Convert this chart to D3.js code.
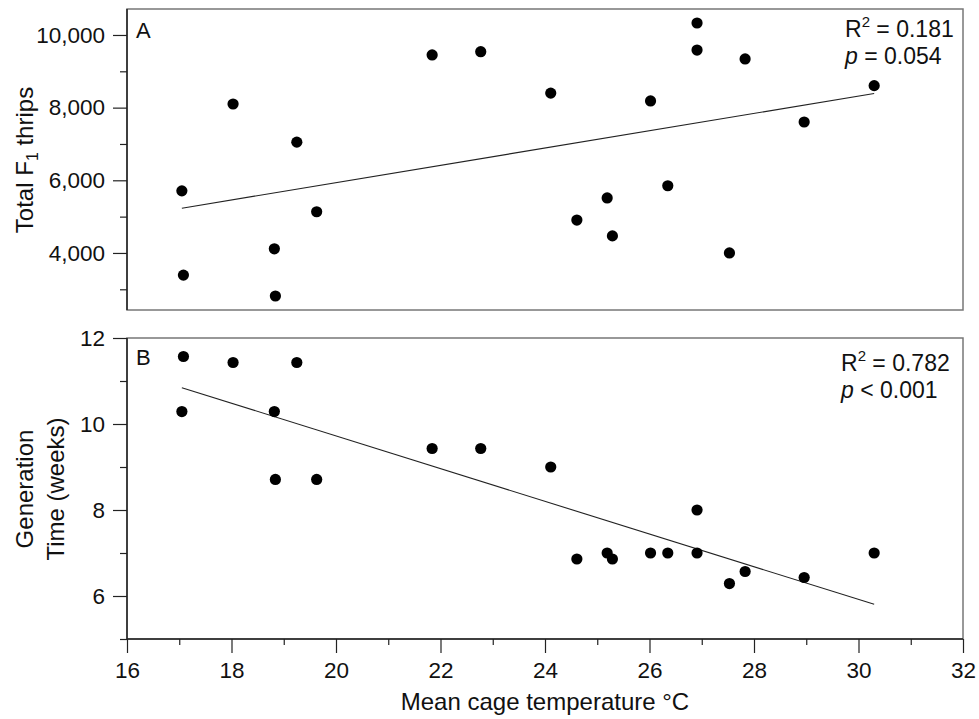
<!DOCTYPE html>
<html>
<head>
<meta charset="utf-8">
<script src="https://cdn.jsdelivr.net/npm/d3@7"></script>
<style>
    body { margin: 0; background: #fff; }
    svg text { font-family: "Liberation Sans", Arial, Helvetica, sans-serif; fill: #111; }
</style>
</head>
<body>
<div id="chart-container"></div>
<script>
// Mean cage temperature (°C) for each cage
const temperature = [17.05, 17.08, 18.03, 18.82, 18.84, 19.25, 19.63, 21.84, 22.77, 24.11, 24.61,
    25.19, 25.29, 26.02, 26.35, 26.91, 26.91, 27.53, 27.83, 28.96, 30.30];
// Panel A: total F1 thrips
const totalThrips = [5710, 3390, 8100, 4115, 2815, 7050, 5135, 9450, 9540, 8400, 4905,
    5515, 4470, 8185, 5850, 10330, 9585, 4000, 9340, 7605, 8605];
// Panel B: generation time (weeks)
const generationTime = [10.29, 11.57, 11.43, 10.29, 8.71, 11.43, 8.71, 9.43, 9.43, 9.0, 6.86,
    7.0, 6.86, 7.0, 7.0, 8.0, 7.0, 6.29, 6.57, 6.43, 7.0];

const xTicks = [16, 18, 20, 22, 24, 26, 28, 30, 32];
const xMinorTicks = [17, 19, 21, 23, 25, 27, 29, 31];
const thripsTicks = [4000, 6000, 8000, 10000];
const thripsMinorTicks = [3000, 5000, 7000, 9000];
const genTicks = [6, 8, 10, 12];
const genMinorTicks = [5, 7, 9, 11];
const statsA = ["0.181", "= 0.054"];
const statsB = ["0.782", "< 0.001"];

const width = 979, height = 719;
const left = 127, right = 963;

const svg = d3.select('#chart-container')
    .append('svg')
    .attr('width', width)
    .attr('height', height);

const x = d3.scaleLinear().domain([16, 32]).range([left, right]);

// least squares fit, used for the trend lines
function fitLine(xs, ys) {
    const mx = d3.mean(xs), my = d3.mean(ys);
    let sxy = 0, sxx = 0;
    xs.forEach((v, i) => { sxy += (v - mx) * (ys[i] - my); sxx += (v - mx) * (v - mx); });
    const b = sxy / sxx;
    const x0 = d3.min(xs), x1 = d3.max(xs);
    return [[x0, my + b * (x0 - mx)], [x1, my + b * (x1 - mx)]];
}

function drawPanel(opts) {
    const y = d3.scaleLinear().domain(opts.domain).range([opts.bottom, opts.top]);
    const g = svg.append('g');

    // grey frame
    g.append('rect')
        .attr('x', left).attr('y', opts.top)
        .attr('width', right - left).attr('height', opts.bottom - opts.top)
        .attr('fill', 'none').attr('stroke', '#777').attr('stroke-width', 1.5);

    // y axis: major ticks with labels + minor ticks
    const yAxis = g.append('g')
        .attr('transform', `translate(${left},0)`)
        .call(d3.axisLeft(y).tickValues(opts.ticks).tickSize(14).tickPadding(8).tickFormat(opts.format));
    yAxis.select('.domain').remove();
    yAxis.selectAll('text').attr('font-size', 22.5).attr('fill', '#111');
    yAxis.selectAll('line').attr('stroke', '#222').attr('stroke-width', 1.2);

    const yMinor = g.append('g')
        .attr('transform', `translate(${left},0)`)
        .call(d3.axisLeft(y).tickValues(opts.minor).tickSize(7).tickFormat(''));
    yMinor.select('.domain').remove();
    yMinor.selectAll('line').attr('stroke', '#222').attr('stroke-width', 1.2);

    // dark left axis line
    g.append('line')
        .attr('x1', left).attr('x2', left)
        .attr('y1', opts.top).attr('y2', opts.bottom)
        .attr('stroke', '#222').attr('stroke-width', 1.5);

    // trend line
    const fit = fitLine(temperature, opts.values);
    g.append('path')
        .datum(fit)
        .attr('fill', 'none')
        .attr('stroke', '#222')
        .attr('stroke-width', 1.1)
        .attr('d', d3.line().x(d => x(d[0])).y(d => y(d[1])));

    // points
    g.append('g')
        .selectAll('circle')
        .data(opts.values)
        .enter()
        .append('circle')
        .attr('cx', (d, i) => x(temperature[i]))
        .attr('cy', d => y(d))
        .attr('r', 5.6)
        .attr('fill', '#000');

    // panel letter
    g.append('text')
        .attr('x', 136).attr('y', opts.top + opts.letterDy)
        .attr('font-size', 22)
        .text(opts.letter);

    // R2 and p
    const r2 = g.append('text')
        .attr('x', opts.statsX).attr('y', opts.top + opts.statsDy)
        .attr('font-size', 23);
    r2.append('tspan').text('R');
    r2.append('tspan').attr('font-size', 15).attr('dy', -10).text('2');
    r2.append('tspan').attr('dy', 10).text(' = ' + opts.stats[0]);

    const p = g.append('text')
        .attr('x', opts.statsX).attr('y', opts.top + opts.statsDy + 27)
        .attr('font-size', 23);
    p.append('tspan').attr('font-style', 'italic').text('p');
    p.append('tspan').text(' ' + opts.stats[1]);

    return {y, g};
}

// Panel A
const panelA = drawPanel({
    top: 9, bottom: 310, domain: [2430, 10715],
    ticks: thripsTicks, minor: thripsMinorTicks, format: d3.format(','),
    values: totalThrips, letter: 'A', letterDy: 29,
    stats: statsA, statsX: 845, statsDy: 28
});

// Panel B
const panelB = drawPanel({
    top: 338, bottom: 639, domain: [5, 12],
    ticks: genTicks, minor: genMinorTicks, format: d3.format('d'),
    values: generationTime, letter: 'B', letterDy: 27,
    stats: statsB, statsX: 841, statsDy: 33
});

// x axis under panel B
const xAxis = svg.append('g')
    .attr('transform', 'translate(0,639)')
    .call(d3.axisBottom(x).tickValues(xTicks).tickSize(14).tickPadding(9).tickFormat(d3.format('d')));
xAxis.select('.domain').remove();
xAxis.selectAll('text').attr('font-size', 22.5).attr('fill', '#111');
xAxis.selectAll('line').attr('stroke', '#222').attr('stroke-width', 1.2);

const xMinor = svg.append('g')
    .attr('transform', 'translate(0,639)')
    .call(d3.axisBottom(x).tickValues(xMinorTicks).tickSize(6).tickFormat(''));
xMinor.select('.domain').remove();
xMinor.selectAll('line').attr('stroke', '#222').attr('stroke-width', 1.2);

svg.append('line')
    .attr('x1', left).attr('x2', right)
    .attr('y1', 639).attr('y2', 639)
    .attr('stroke', '#222').attr('stroke-width', 1.5);

// axis titles
svg.append('text')
    .attr('x', 545).attr('y', 710)
    .attr('text-anchor', 'middle')
    .attr('font-size', 24)
    .text('Mean cage temperature °C');

const yTitleA = svg.append('text')
    .attr('transform', 'translate(33,160) rotate(-90)')
    .attr('text-anchor', 'middle')
    .attr('font-size', 24);
yTitleA.append('tspan').text('Total F');
yTitleA.append('tspan').attr('font-size', 16).attr('dy', 5).text('1');
yTitleA.append('tspan').attr('dy', -5).text(' thrips');

svg.append('text')
    .attr('transform', 'translate(33,489) rotate(-90)')
    .attr('text-anchor', 'middle')
    .attr('font-size', 24)
    .text('Generation');
svg.append('text')
    .attr('transform', 'translate(64,489) rotate(-90)')
    .attr('text-anchor', 'middle')
    .attr('font-size', 24)
    .text('Time (weeks)');
</script>
</body>
</html>
